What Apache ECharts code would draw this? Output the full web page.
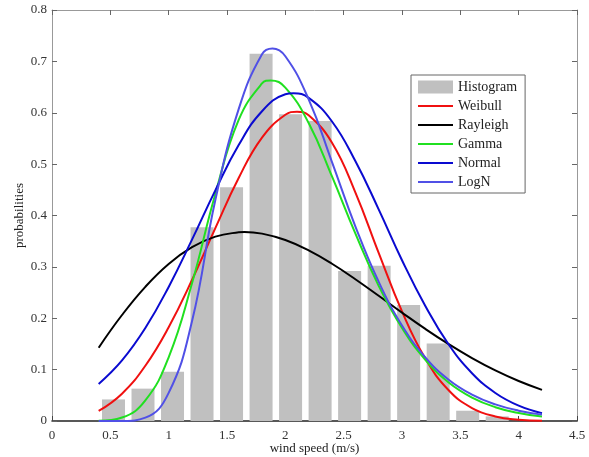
<!DOCTYPE html>
<html>
<head>
<meta charset="utf-8">
<script src="https://cdn.jsdelivr.net/npm/echarts@6/dist/echarts.min.js"></script>
<style>
html,body{margin:0;padding:0;background:#fff;}
#c{width:589px;height:457px;}
</style>
</head>
<body>
<div id="c"></div>
<script>
// Histogram bin centers and heights
var binCenters = [0.527, 0.780, 1.033, 1.286, 1.539, 1.792, 2.045, 2.298, 2.551, 2.804, 3.057, 3.310, 3.563, 3.816];
var histogram  = [0.042, 0.063, 0.096, 0.377, 0.455, 0.715, 0.597, 0.584, 0.292, 0.302, 0.226, 0.151, 0.020, 0.009];

// Fitted curves (wind speed, probability)
var weibullX  = [0.4, 0.6, 0.8, 1.0, 1.2, 1.4, 1.6, 1.8, 2.0, 2.1, 2.2, 2.4, 2.6, 2.8, 3.0, 3.2, 3.4, 3.6, 3.8, 4.0, 4.2];
var weibullY  = [0.0195, 0.0532, 0.1075, 0.1825, 0.2745, 0.3754, 0.473, 0.5516, 0.596, 0.602, 0.595, 0.5417, 0.4452, 0.3273, 0.2132, 0.1215, 0.0599, 0.0252, 0.0089, 0.0026, 0.0006];
var rayleighX = [0.4, 0.6, 0.8, 1.0, 1.2, 1.4, 1.6, 1.65, 1.8, 2.0, 2.2, 2.4, 2.6, 2.8, 3.0, 3.2, 3.4, 3.6, 3.8, 4.0, 4.2];
var rayleighY = [0.1427, 0.2063, 0.2612, 0.3057, 0.3383, 0.3588, 0.3673, 0.368, 0.3647, 0.3524, 0.3322, 0.3061, 0.2760, 0.2437, 0.2110, 0.1792, 0.1495, 0.1224, 0.0984, 0.0778, 0.0605];
var gammaX    = [0.4, 0.6, 0.8, 1.0, 1.2, 1.4, 1.6, 1.8, 1.875, 2.0, 2.2, 2.4, 2.6, 2.8, 3.0, 3.2, 3.4, 3.6, 3.8, 4.0, 4.2];
var gammaY    = [0.0003, 0.0067, 0.040, 0.124, 0.268, 0.442, 0.586, 0.657, 0.663, 0.649, 0.580, 0.476, 0.365, 0.263, 0.181, 0.119, 0.075, 0.0456, 0.0269, 0.0155, 0.0087];
var normalX   = [0.4, 0.6, 0.8, 1.0, 1.2, 1.4, 1.6, 1.8, 2.0, 2.07, 2.2, 2.4, 2.6, 2.8, 3.0, 3.2, 3.4, 3.6, 3.8, 4.0, 4.2];
var normalY   = [0.0722, 0.118, 0.181, 0.261, 0.353, 0.449, 0.537, 0.603, 0.636, 0.638, 0.629, 0.583, 0.506, 0.412, 0.313, 0.224, 0.149, 0.093, 0.0546, 0.0299, 0.0153];
var lognX     = [0.4, 0.6, 0.8, 1.0, 1.2, 1.4, 1.6, 1.8, 1.89, 2.0, 2.2, 2.4, 2.6, 2.8, 3.0, 3.2, 3.4, 3.6, 3.8, 4.0, 4.2];
var lognY     = [0, 0.0002, 0.0065, 0.0547, 0.194, 0.43, 0.607, 0.714, 0.725, 0.710, 0.626, 0.504, 0.379, 0.271, 0.186, 0.124, 0.0804, 0.0514, 0.0323, 0.0201, 0.0124];

var xTicks = {min: 0, max: 4.5, interval: 0.5};
var yTicks = {min: 0, max: 0.8, interval: 0.1};

function pairs(xv, yv) { return xv.map(function (x, i) { return [x, yv[i]]; }); }

var FONT = 'Liberation Serif';
var LINE_ICON = 'path://M0,0 L35,0 L35,2 L0,2 Z';
var chart = echarts.init(document.getElementById('c'), null, {renderer: 'canvas'});

function lineSeries(name, xv, yv, color) {
  return {
    name: name, type: 'line', data: pairs(xv, yv), xAxisIndex: 0, yAxisIndex: 0,
    smooth: 0.45, symbol: 'none', showSymbol: false,
    lineStyle: {color: color, width: 2}, itemStyle: {color: color},
    z: 3
  };
}

chart.setOption({
  animation: false,
  backgroundColor: '#fff',
  grid: {left: 52, top: 10, right: 12, bottom: 36, containLabel: false, outerBoundsMode: 'none'},
  legend: {
    orient: 'vertical', left: 411, top: 75,
    padding: [5, 8, 4, 7], itemGap: 5, itemWidth: 35, itemHeight: 13,
    backgroundColor: '#fff', borderColor: '#666', borderWidth: 1,
    textStyle: {fontFamily: FONT, fontSize: 14, color: '#222'},
    data: [
      {name: 'Histogram', icon: 'rect'},
      {name: 'Weibull', icon: LINE_ICON}, {name: 'Rayleigh', icon: LINE_ICON},
      {name: 'Gamma', icon: LINE_ICON}, {name: 'Normal', icon: LINE_ICON}, {name: 'LogN', icon: LINE_ICON}
    ]
  },
  xAxis: [{
    type: 'value', min: xTicks.min, max: xTicks.max, interval: xTicks.interval,
    name: 'wind speed (m/s)', nameLocation: 'middle', nameGap: 21, nameMoveOverlap: false,
    nameTextStyle: {fontFamily: FONT, fontSize: 13, color: '#222'},
    axisLine: {show: true, onZero: false, lineStyle: {color: '#222', width: 1.5}},
    axisTick: {show: true, inside: true, length: 5, lineStyle: {color: '#444'}},
    axisLabel: {fontFamily: FONT, fontSize: 13, color: '#333', margin: 8},
    splitLine: {show: false}
  }, {
    type: 'value', position: 'top', min: xTicks.min, max: xTicks.max, interval: xTicks.interval,
    axisLine: {show: true, onZero: false, lineStyle: {color: '#999', width: 1}},
    axisTick: {show: true, inside: true, length: 5, lineStyle: {color: '#666'}},
    axisLabel: {show: false}, splitLine: {show: false}
  }],
  yAxis: [{
    type: 'value', min: yTicks.min, max: yTicks.max, interval: yTicks.interval,
    name: 'probabilities', nameLocation: 'middle', nameGap: 26, nameMoveOverlap: false,
    nameTextStyle: {fontFamily: FONT, fontSize: 13, color: '#222'},
    axisLine: {show: true, onZero: false, lineStyle: {color: '#999', width: 1}},
    axisTick: {show: true, inside: true, length: 5, lineStyle: {color: '#666'}},
    axisLabel: {fontFamily: FONT, fontSize: 13, color: '#333', margin: 5},
    splitLine: {show: false}
  }, {
    type: 'value', position: 'right', min: yTicks.min, max: yTicks.max, interval: yTicks.interval,
    axisLine: {show: true, onZero: false, lineStyle: {color: '#999', width: 1}},
    axisTick: {show: true, inside: true, length: 5, lineStyle: {color: '#666'}},
    axisLabel: {show: false}, splitLine: {show: false}
  }],
  series: [
    {
      name: 'Histogram', type: 'bar', data: pairs(binCenters, histogram),
      xAxisIndex: 0, yAxisIndex: 0, barWidth: 23,
      itemStyle: {color: '#c0c0c0'}, z: 2
    },
    lineSeries('Weibull', weibullX, weibullY, '#f01010'),
    lineSeries('Rayleigh', rayleighX, rayleighY, '#000000'),
    lineSeries('Gamma', gammaX, gammaY, '#20e020'),
    lineSeries('Normal', normalX, normalY, '#0a0ad0'),
    lineSeries('LogN', lognX, lognY, '#5050e6')
  ]
});
</script>
</body>
</html>
